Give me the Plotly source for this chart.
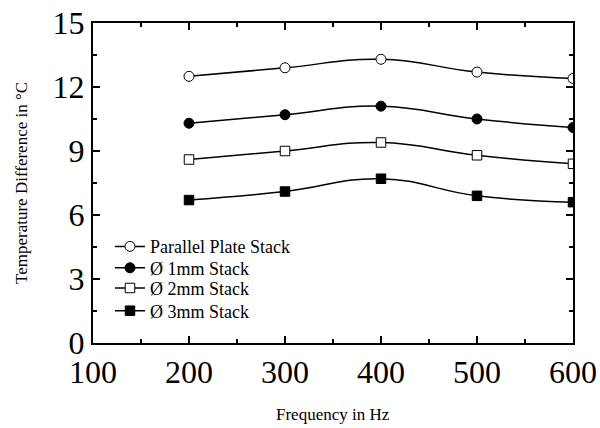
import plotly.graph_objects as go

freq = [200, 300, 400, 500, 600]
parallel_plate = [12.5, 12.9, 13.3, 12.7, 12.4]
stack_1mm = [10.3, 10.7, 11.1, 10.5, 10.1]
stack_2mm = [8.6, 9.0, 9.4, 8.8, 8.4]
stack_3mm = [6.7, 7.1, 7.7, 6.9, 6.6]

# (label, values, marker symbol, marker fill)
series = [
    ("Parallel Plate Stack", parallel_plate, "circle", "white"),
    ("Ø 1mm Stack", stack_1mm, "circle", "black"),
    ("Ø 2mm Stack", stack_2mm, "square", "white"),
    ("Ø 3mm Stack", stack_3mm, "square", "black"),
]

font = "Liberation Serif"

# one legend box per series so the rows can sit closer than plotly's default spacing
legend_ids = ["legend", "legend2", "legend3", "legend4"]
legend_rows = [0.301, 0.234, 0.171, 0.100]

fig = go.Figure()
for (name, vals, sym, fill), lid in zip(series, legend_ids):
    fig.add_trace(go.Scatter(
        x=freq, y=vals, name=name, mode="lines+markers", legend=lid,
        line=dict(color="black", width=1.5, shape="spline", smoothing=1.3),
        marker=dict(symbol=sym, size=10 if sym == "circle" else 9.5, color=fill,
                    line=dict(color="black", width=1)),
    ))

axis_common = dict(
    showline=True, linecolor="black", linewidth=2, mirror="allticks",
    ticks="inside", ticklen=7, tickwidth=1.5, tickcolor="black",
    showgrid=False, zeroline=False, automargin=False,
    tickfont=dict(family=font, size=32, color="black"),
)

fig.update_xaxes(
    range=[100, 600], tickvals=[100, 200, 300, 400, 500, 600],
    minor=dict(ticks="inside", ticklen=4, tickwidth=1.5, tickcolor="black", dtick=50, tick0=100),
    **axis_common,
)
fig.update_yaxes(
    range=[0, 15], tickvals=[0, 3, 6, 9, 12, 15],
    minor=dict(ticks="inside", ticklen=4, tickwidth=1.5, tickcolor="black", dtick=1.5, tick0=0),
    **axis_common,
)

title_font = dict(family=font, size=17, color="black")
fig.add_annotation(text="Frequency in Hz", xref="paper", yref="paper",
                   x=0.5, y=-0.222, xanchor="center", yanchor="middle",
                   showarrow=False, font=title_font)
fig.add_annotation(text="Temperature Difference in °C", xref="paper", yref="paper",
                   x=-0.15, y=0.5, xanchor="center", yanchor="middle", textangle=-90,
                   showarrow=False, font=title_font)

legend_common = dict(
    x=0.0354, xanchor="left", yanchor="middle",
    font=dict(family=font, size=18, color="black"),
    bgcolor="rgba(0,0,0,0)", itemwidth=30, borderwidth=0,
)
layout_legends = {lid: dict(y=ly, **legend_common) for lid, ly in zip(legend_ids, legend_rows)}

fig.update_layout(
    width=600, height=428,
    margin=dict(l=93, r=27, t=23, b=85),
    paper_bgcolor="white", plot_bgcolor="white",
    showlegend=True,
    **layout_legends,
)

fig.write_html("out.html")
